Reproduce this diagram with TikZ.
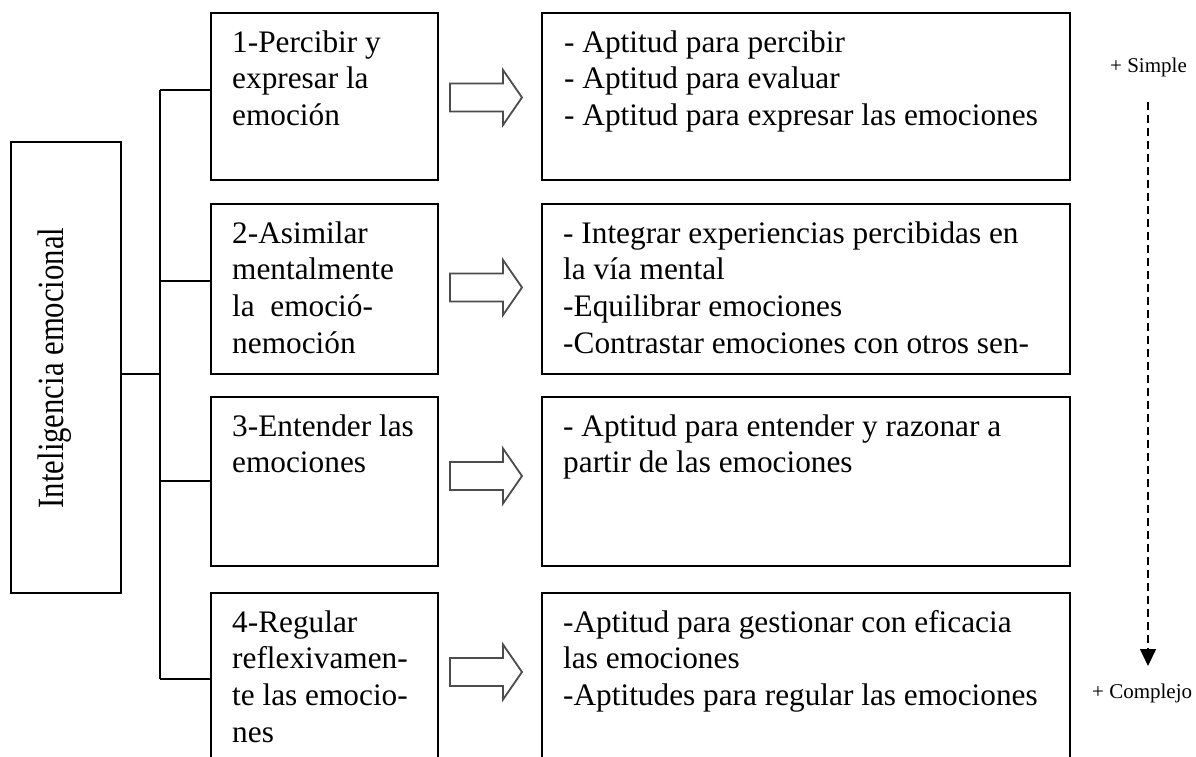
\documentclass[tikz,border=0pt]{standalone}
\usepackage{fontspec}
\setmainfont{Liberation Serif}
\usepackage{graphicx}
\usetikzlibrary{arrows.meta,calc}
\begin{document}
\begin{tikzpicture}[x=1pt,y=-1pt,
  box/.style={draw, line width=1.6pt, inner sep=0pt, rectangle},
  txt/.style={font=\fontsize{31.3}{36.7}\selectfont, align=left, anchor=north west, inner sep=0pt},
  small/.style={font=\fontsize{21}{24}\selectfont, anchor=base west, inner sep=0pt},
  conn/.style={line width=1.6pt},
  blockarrow/.pic={\draw[line width=1.8pt, draw=black!70, line join=miter]
     (0,-14)--(53,-14)--(53,-27.5)--(72,0)--(53,27.5)--(53,14)--(0,14)--cycle;}
]
\useasboundingbox (0,0) rectangle (1196,757);
\clip (0,0) rectangle (1196,757);

% left box
\node[box, minimum width=110, minimum height=451] (L) at (66,367.5) {};
\node[rotate=90, anchor=base, inner sep=0pt, font=\fontsize{37}{40}\selectfont] (Lt) at (63,368) {\scalebox{0.83}[1]{Inteligencia emocional}};

% middle boxes
\node[box, minimum width=227, minimum height=167] (m1) at (324.5,96.5) {};
\node[box, minimum width=227, minimum height=170] (m2) at (324.5,289) {};
\node[box, minimum width=227, minimum height=169] (m3) at (324.5,481.5) {};
\node[box, minimum width=227, minimum height=177] (m4) at (324.5,681.5) {};

% right boxes
\node[box, minimum width=528, minimum height=167] (r1) at (806,96.5) {};
\node[box, minimum width=528, minimum height=170] (r2) at (806,289) {};
\node[box, minimum width=528, minimum height=169] (r3) at (806,481.5) {};
\node[box, minimum width=528, minimum height=177] (r4) at (806,681.5) {};

% texts middle
\node[txt] (tm1) at (232,26.3) {\strut 1-Percibir y\\expresar la\\emoción};
\node[txt] (tm2) at (232,217.3) {\strut 2-Asimilar\\mentalmente\\la\ \ emoció-\\nemoción};
\node[txt] (tm3) at (232,410.3) {\strut 3-Entender las\\emociones};
\node[txt] (tm4) at (232,606.3) {\strut 4-Regular\\reflexivamen-\\te las emocio-\\nes};

% texts right
\node[txt] (tr1) at (564,26.3) {\strut - Aptitud para percibir\\- Aptitud para evaluar\\- Aptitud para expresar las emociones};
\node[txt] (tr2) at (563,217.3) {\strut - Integrar experiencias percibidas en\\la vía mental\\-Equilibrar emociones\\-Contrastar emociones con otros sen-};
\node[txt] (tr3) at (563,410.3) {\strut - Aptitud para entender y razonar a\\partir de las emociones};
\node[txt] (tr4) at (563,606.3) {\strut -Aptitud para gestionar con eficacia\\las emociones\\-Aptitudes para regular las emociones};

% tree connectors
\coordinate (t0) at (160,374);
\coordinate (t1) at (160,90);
\coordinate (t2) at (160,281);
\coordinate (t3) at (160,481);
\coordinate (t4) at (160,679);
\draw[conn] (L.east |- t0) -- (t0);
\draw[conn] (t1) -- (t4);
\draw[conn] (t1) -- (t1 -| m1.west);
\draw[conn] (t2) -- (t2 -| m2.west);
\draw[conn] (t3) -- (t3 -| m3.west);
\draw[conn] (t4) -- (t4 -| m4.west);

% block arrows
\pic (a1) at (450,97.5) {blockarrow};
\pic (a2) at (450,287.5) {blockarrow};
\pic (a3) at (450,476) {blockarrow};
\pic (a4) at (450,672) {blockarrow};

% simple -> complejo
\node[small] (simple) at (1110,73) {+ Simple};
\node[small] (complejo) at (1092,698) {+ Complejo};
\coordinate (d1) at (1148,102);
\coordinate (d2) at (1148,666);
\draw[line width=1.5pt, dash pattern=on 8pt off 5pt, -{Triangle[width=16pt,length=17pt]}] (d1) -- (d2);
\end{tikzpicture}
\end{document}
